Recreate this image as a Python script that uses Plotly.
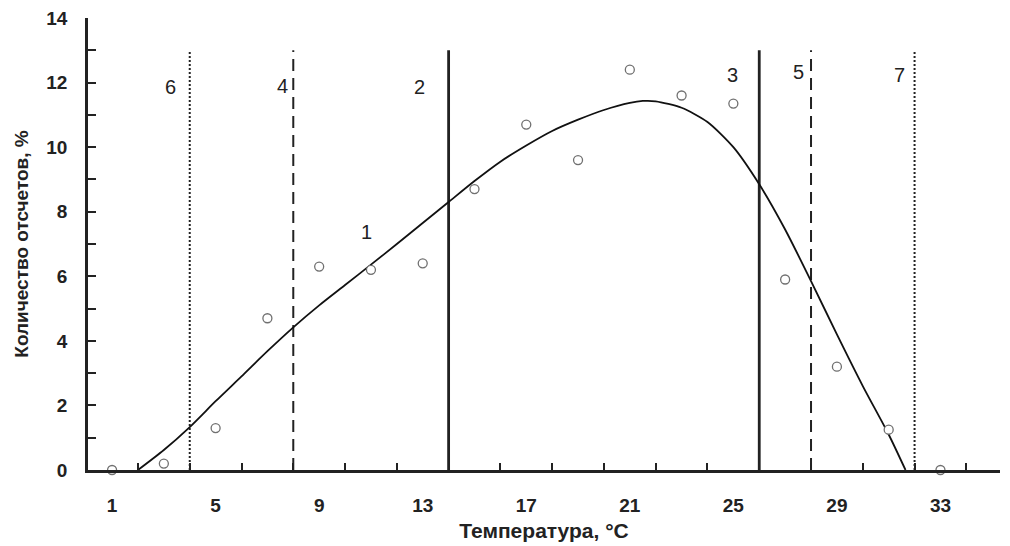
import plotly.graph_objects as go

# Observed share of readings by temperature (odd degrees)
temp_obs = [1, 3, 5, 7, 9, 11, 13, 15, 17, 19, 21, 23, 25, 27, 29, 31, 33]
share_obs = [0.0, 0.2, 1.3, 4.7, 6.3, 6.2, 6.4, 8.7, 10.7, 9.6, 12.4, 11.6, 11.35, 5.9, 3.2, 1.25, 0.0]

# Smoothed approximation curve (1)
temp_fit = [2.0, 3, 4, 5, 6, 7, 8, 9, 10, 11, 12, 13, 14, 15, 16, 17, 18, 19, 20,
            21, 21.5, 22, 23, 24, 25, 26, 27, 28, 29, 30, 31, 31.65]
share_fit = [0.0, 0.62, 1.33, 2.13, 2.9, 3.68, 4.42, 5.1, 5.73, 6.36, 7.0, 7.65, 8.3,
             8.95, 9.55, 10.05, 10.5, 10.85, 11.15, 11.37, 11.43, 11.42, 11.22, 10.78,
             10.0, 8.85, 7.45, 5.85, 4.2, 2.6, 1.1, 0.0]

# Threshold temperatures with their labels
bound_temp = [4, 8, 14, 26, 28, 32]
bound_label = ["6", "4", "2", "3", "5", "7"]
bound_style = ["dot", "dash", "solid", "solid", "dash", "dot"]
bound_top = 13.0

# Label positions for the thresholds and the curve
label_x = [3.24, 7.59, 12.89, 24.96, 27.52, 31.43, 10.84]
label_y = [11.87, 11.9, 11.87, 12.23, 12.32, 12.23, 7.37]
label_text = bound_label + ["1"]

# Axis ticks
x_label_vals = [1, 5, 9, 13, 17, 21, 25, 29, 33]
x_mark_vals = list(range(2, 35, 2))
y_tick_vals = list(range(0, 15))
y_tick_text = [str(v) if v % 2 == 0 else "" for v in y_tick_vals]

ink = "#222222"
dash_map = {"dot": "2px,2px", "dash": "12px,7px", "solid": "solid"}
width_map = {"dot": 2.0, "dash": 2.0, "solid": 2.8}

fig = go.Figure()

for t, s in zip(bound_temp, bound_style):
    fig.add_trace(go.Scatter(
        x=[t, t], y=[0, bound_top], mode="lines",
        line=dict(color=ink, width=width_map[s], dash=dash_map[s]),
        hoverinfo="skip", showlegend=False))

fig.add_trace(go.Scatter(
    x=temp_fit, y=share_fit, mode="lines",
    line=dict(color="#111111", width=1.8, shape="spline", smoothing=0.7),
    showlegend=False))

fig.add_trace(go.Scatter(
    x=temp_obs, y=share_obs, mode="markers",
    marker=dict(symbol="circle", size=9, color="white",
                line=dict(color="#707070", width=1.3)),
    cliponaxis=False, showlegend=False))

for x, y, t in zip(label_x, label_y, label_text):
    fig.add_annotation(x=x, y=y, text=t, showarrow=False,
                       font=dict(family="Liberation Sans, Arial", size=20, color=ink))

fig.update_layout(
    width=1010, height=546,
    margin=dict(l=88, r=10, t=18, b=76, autoexpand=False),
    paper_bgcolor="white", plot_bgcolor="white",
    font=dict(family="Liberation Sans, Arial", color=ink),
    xaxis=dict(
        range=[0.07, 35.3], showgrid=False, zeroline=False, automargin=False,
        showline=True, linecolor=ink, linewidth=2.5,
        tickmode="array", tickvals=x_label_vals, ticks="",
        tickfont=dict(size=19, weight="bold", color=ink),
        ticklabelstandoff=16,
        minor=dict(tickmode="array", tickvals=x_mark_vals, ticks="inside",
                   ticklen=7, tickwidth=2, tickcolor=ink, showgrid=False),
        title=dict(text="Температура, °C", standoff=9,
                   font=dict(size=21, weight="bold", color=ink)),
    ),
    yaxis=dict(
        range=[0, 14], showgrid=False, zeroline=False, automargin=False,
        showline=True, linecolor=ink, linewidth=2.5,
        tickmode="array", tickvals=y_tick_vals, ticktext=y_tick_text,
        ticks="inside", ticklen=8, tickwidth=2, tickcolor=ink,
        tickfont=dict(size=19, weight="bold", color=ink),
        ticklabelstandoff=14,
        title=dict(text="Количество отсчетов, %", standoff=13,
                   font=dict(size=19, weight="bold", color=ink)),
    ),
)

fig.write_html("out.html")
